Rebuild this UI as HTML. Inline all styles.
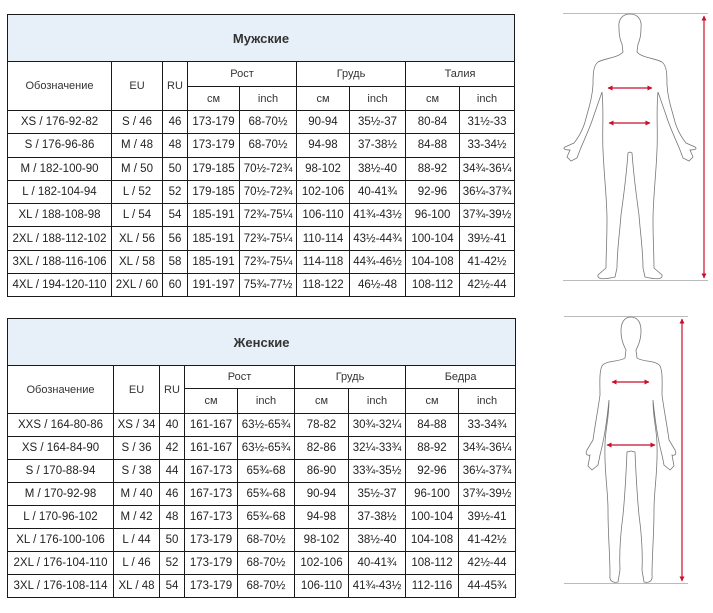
<!DOCTYPE html>
<html><head><meta charset="utf-8"><style>
body{margin:0;width:713px;height:613px;background:#fff;position:relative;overflow:hidden;font-family:"Liberation Sans",sans-serif;}
table{position:absolute;border-collapse:collapse;table-layout:fixed;}
td{border:1px solid #1a1a1a;text-align:center;font-size:11.5px;color:#222;padding:0;white-space:nowrap;}
td.t{background:#e7f0f8;font-weight:bold;font-size:13px;color:#333;}
td.h{font-size:11px;color:#333;}
svg{position:absolute;left:0;top:0;}
</style></head><body>

<table style="left:7px;top:14px;width:507px;">
<colgroup><col style="width:104px"><col style="width:51px"><col style="width:25px"><col style="width:52px"><col style="width:57px"><col style="width:53px"><col style="width:56px"><col style="width:54px"><col style="width:55px"></colgroup>
<tr style="height:47px"><td class="t" colspan="9">Мужские</td></tr>
<tr style="height:25px"><td class="h" rowspan="2">Обозначение</td><td class="h" rowspan="2">EU</td><td class="h" rowspan="2">RU</td><td class="h" colspan="2">Рост</td><td class="h" colspan="2">Грудь</td><td class="h" colspan="2">Талия</td></tr>
<tr style="height:24px"><td class="h">см</td><td class="h">inch</td><td class="h">см</td><td class="h">inch</td><td class="h">см</td><td class="h">inch</td></tr>
<tr style="height:23.3px"><td>XS / 176-92-82</td><td>S / 46</td><td>46</td><td>173-179</td><td>68-70½</td><td>90-94</td><td>35½-37</td><td>80-84</td><td>31½-33</td></tr>
<tr style="height:23.3px"><td>S / 176-96-86</td><td>M / 48</td><td>48</td><td>173-179</td><td>68-70½</td><td>94-98</td><td>37-38½</td><td>84-88</td><td>33-34½</td></tr>
<tr style="height:23.3px"><td>M / 182-100-90</td><td>M / 50</td><td>50</td><td>179-185</td><td>70½-72¾</td><td>98-102</td><td>38½-40</td><td>88-92</td><td>34¾-36¼</td></tr>
<tr style="height:23.3px"><td>L / 182-104-94</td><td>L / 52</td><td>52</td><td>179-185</td><td>70½-72¾</td><td>102-106</td><td>40-41¾</td><td>92-96</td><td>36¼-37¾</td></tr>
<tr style="height:23.3px"><td>XL / 188-108-98</td><td>L / 54</td><td>54</td><td>185-191</td><td>72¾-75¼</td><td>106-110</td><td>41¾-43½</td><td>96-100</td><td>37¾-39½</td></tr>
<tr style="height:23.3px"><td>2XL / 188-112-102</td><td>XL / 56</td><td>56</td><td>185-191</td><td>72¾-75¼</td><td>110-114</td><td>43½-44¾</td><td>100-104</td><td>39½-41</td></tr>
<tr style="height:23.3px"><td>3XL / 188-116-106</td><td>XL / 58</td><td>58</td><td>185-191</td><td>72¾-75¼</td><td>114-118</td><td>44¾-46½</td><td>104-108</td><td>41-42½</td></tr>
<tr style="height:23.3px"><td>4XL / 194-120-110</td><td>2XL / 60</td><td>60</td><td>191-197</td><td>75¾-77½</td><td>118-122</td><td>46½-48</td><td>108-112</td><td>42½-44</td></tr>
</table>

<table style="left:7px;top:318px;width:508px;">
<colgroup><col style="width:106px"><col style="width:46px"><col style="width:25px"><col style="width:53px"><col style="width:57px"><col style="width:54px"><col style="width:57px"><col style="width:53px"><col style="width:57px"></colgroup>
<tr style="height:47px"><td class="t" colspan="9">Женские</td></tr>
<tr style="height:23px"><td class="h" rowspan="2">Обозначение</td><td class="h" rowspan="2">EU</td><td class="h" rowspan="2">RU</td><td class="h" colspan="2">Рост</td><td class="h" colspan="2">Грудь</td><td class="h" colspan="2">Бедра</td></tr>
<tr style="height:25px"><td class="h">см</td><td class="h">inch</td><td class="h">см</td><td class="h">inch</td><td class="h">см</td><td class="h">inch</td></tr>
<tr style="height:23px"><td>XXS / 164-80-86</td><td>XS / 34</td><td>40</td><td>161-167</td><td>63½-65¾</td><td>78-82</td><td>30¾-32¼</td><td>84-88</td><td>33-34¾</td></tr>
<tr style="height:23px"><td>XS / 164-84-90</td><td>S / 36</td><td>42</td><td>161-167</td><td>63½-65¾</td><td>82-86</td><td>32¼-33¾</td><td>88-92</td><td>34¾-36¼</td></tr>
<tr style="height:23px"><td>S / 170-88-94</td><td>S / 38</td><td>44</td><td>167-173</td><td>65¾-68</td><td>86-90</td><td>33¾-35½</td><td>92-96</td><td>36¼-37¾</td></tr>
<tr style="height:23px"><td>M / 170-92-98</td><td>M / 40</td><td>46</td><td>167-173</td><td>65¾-68</td><td>90-94</td><td>35½-37</td><td>96-100</td><td>37¾-39½</td></tr>
<tr style="height:23px"><td>L / 170-96-102</td><td>M / 42</td><td>48</td><td>167-173</td><td>65¾-68</td><td>94-98</td><td>37-38½</td><td>100-104</td><td>39½-41</td></tr>
<tr style="height:23px"><td>XL / 176-100-106</td><td>L / 44</td><td>50</td><td>173-179</td><td>68-70½</td><td>98-102</td><td>38½-40</td><td>104-108</td><td>41-42½</td></tr>
<tr style="height:23px"><td>2XL / 176-104-110</td><td>L / 46</td><td>52</td><td>173-179</td><td>68-70½</td><td>102-106</td><td>40-41¾</td><td>108-112</td><td>42½-44</td></tr>
<tr style="height:23px"><td>3XL / 176-108-114</td><td>XL / 48</td><td>54</td><td>173-179</td><td>68-70½</td><td>106-110</td><td>41¾-43½</td><td>112-116</td><td>44-45¾</td></tr>
</table>

<svg width="713" height="613" viewBox="0 0 713 613">
<defs>
<marker id="a" markerUnits="userSpaceOnUse" markerWidth="5" markerHeight="5" refX="4.5" refY="2.5" orient="auto-start-reverse"><path d="M0,0 L5,2.5 L0,5z" fill="#c8102e"/></marker>
</defs>
<g stroke="#bbb" stroke-width="1"><line x1="563" y1="13.5" x2="708" y2="13.5"/><line x1="563" y1="280.5" x2="708" y2="280.5"/>
<line x1="564" y1="316.5" x2="688" y2="316.5"/><line x1="564" y1="583.5" x2="688" y2="583.5"/></g>
<g fill="none" stroke="#777" stroke-width="0.8">
<g id="m"><path d="M630,14 C622,14 618,20 619,28 C619,34 620,40 622,44 L623,52 C618,58 605,58 598,62 C593,66 593,75 593,85 C592,100 588,110 585,122 C582,132 578,138 574,143 L565,147 C562,149 566,150 570,150 L567,157 L571,161 L577,158 L580,150 C584,140 590,128 594,115 L602,92 C604,112 602,130 603,150 C604,175 607,200 607,220 C607,240 606,255 606,268 L598,275 C597,279 602,280 615,277 L617,268 C617,250 620,230 621,215 C623,200 626,180 628,153 L630,152"/></g>
<use href="#m" transform="translate(1260,0) scale(-1,1)"/>
<g id="f"><path d="M631,317 C624,317 621,323 621,331 C621,340 624,346 626,350 L625,358 C620,362 606,360 602,366 C599,372 600,385 600,395 C598,410 595,425 593,440 L587,450 C585,454 587,456 590,455 L588,466 L592,470 L598,465 L600,455 C604,440 607,420 609,400 C609,420 605,430 605,445 C604,470 608,490 608,510 C608,535 610,555 610,575 C609,582 614,583 618,582 L620,570 C619,550 621,530 623,515 C625,495 626,475 627,452 L631,451"/></g>
<use href="#f" transform="translate(1262,0) scale(-1,1)"/>
</g>
<g stroke="#c8102e" stroke-width="1.2" marker-start="url(#a)" marker-end="url(#a)">
<line x1="704" y1="16" x2="704" y2="278"/>
<line x1="608" y1="88" x2="652" y2="88"/>
<line x1="609" y1="123" x2="650" y2="123"/>
<line x1="682" y1="319" x2="682" y2="581"/>
<line x1="612" y1="382" x2="649" y2="382"/>
<line x1="607" y1="445" x2="655" y2="445"/>
</g>
</svg>
</body></html>
